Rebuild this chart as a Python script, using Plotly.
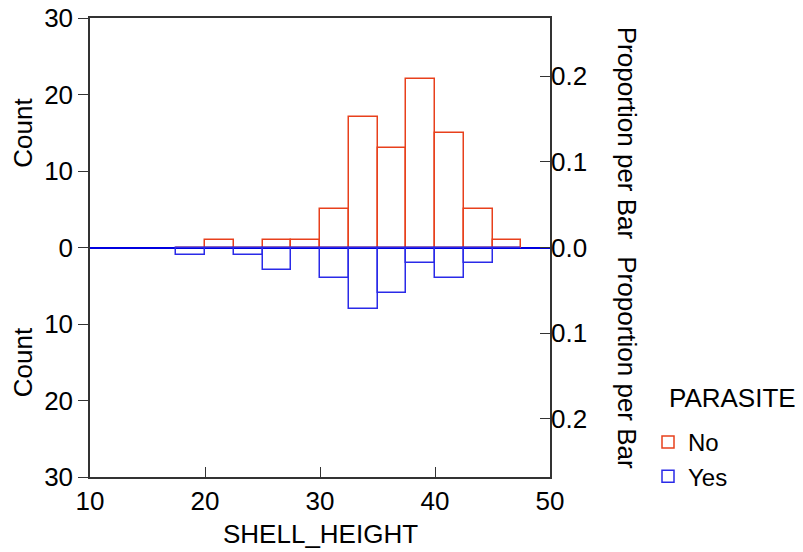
import plotly.graph_objects as go

bin_left = [17.5, 20.0, 22.5, 25.0, 27.5, 30.0, 32.5, 35.0, 37.5, 40.0, 42.5, 45.0]
bin_width = 2.5
count_no = [0, 1, 0, 1, 1, 5, 17, 13, 22, 15, 5, 1]
count_yes = [1, 0, 1, 3, 0, 4, 8, 6, 2, 4, 2, 0]
x_ticks = [10, 20, 30, 40, 50]
count_ticks = [-30, -20, -10, 0, 10, 20, 30]
prop_ticks = [-0.2, -0.1, 0.0, 0.1, 0.2]

total = sum(count_no) + sum(count_yes)
centers = [b + bin_width / 2 for b in bin_left]

RED = "#e8401c"
BLUE = "#2a2ae8"
FONT = "Liberation Sans, Arial, sans-serif"
FS = 26

PW, PH = 460, 459  # plot area size in px

fig = go.Figure()
fig.add_trace(go.Bar(
    x=centers, y=count_no, width=bin_width, name="No",
    marker=dict(color="rgba(0,0,0,0)", line=dict(color=RED, width=1.5)),
))
fig.add_trace(go.Bar(
    x=centers, y=[-c for c in count_yes], width=bin_width, name="Yes",
    marker=dict(color="rgba(0,0,0,0)", line=dict(color=BLUE, width=1.5)),
))
# invisible trace to drive the right-hand proportion axis
fig.add_trace(go.Scatter(x=[centers[0]], y=[0], yaxis="y2", mode="markers",
                         marker=dict(opacity=0), showlegend=False, hoverinfo="skip"))

fig.update_layout(
    width=803, height=552,
    margin=dict(l=82, r=261, t=10, b=83, autoexpand=False),
    paper_bgcolor="white", plot_bgcolor="white",
    font=dict(family=FONT, size=FS, color="black"),
    barmode="overlay", bargap=0,
    xaxis=dict(
        range=[10, 50], tickvals=x_ticks, ticks="inside", ticklen=10,
        tickcolor="#333", showline=True, linecolor="#333", linewidth=1.5, mirror=True,
        showgrid=False, zeroline=False, automargin=False, ticklabeloverflow="allow",
    ),
    yaxis=dict(
        range=[-30, 30], tickvals=count_ticks,
        ticktext=[str(abs(t)) for t in count_ticks],
        ticks="outside", ticklen=10, tickcolor="#333", automargin=False,
        ticklabeloverflow="allow",
        showline=True, linecolor="#333", linewidth=1.5, mirror=True,
        showgrid=False, zeroline=True, zerolinecolor="#0000e0", zerolinewidth=2,
    ),
    yaxis2=dict(
        overlaying="y", side="right", automargin=False, ticklabeloverflow="allow",
        range=[-30 / total, 30 / total], tickvals=prop_ticks,
        ticktext=["%.1f" % abs(t) for t in prop_ticks],
        ticks="inside", ticklen=10, tickcolor="#333",
        showline=False, showgrid=False, zeroline=False,
    ),
    legend=dict(
        x=(648 - 90) / PW, xanchor="left", y=57 / PH, yanchor="top",
        font=dict(size=24), itemwidth=30, tracegroupgap=0,
        bgcolor="rgba(0,0,0,0)",
    ),
    showlegend=True,
)

# x-axis title
fig.add_annotation(text="SHELL_HEIGHT", xref="paper", yref="paper",
                   x=0.5, y=-57 / PH, showarrow=False, font=dict(size=FS),
                   xanchor="center", yanchor="middle")
# legend title
fig.add_annotation(text="PARASITE", xref="paper", yref="paper",
                   x=(667 - 90) / PW, y=-(398 - 477) / PH, showarrow=False,
                   font=dict(size=FS), xanchor="left", yanchor="middle")

for yc in [0.75, 0.25]:
    fig.add_annotation(text="Count", xref="paper", yref="paper",
                       x=-67 / PW, y=yc, textangle=-90, showarrow=False,
                       font=dict(size=FS), xanchor="center", yanchor="middle")
for yc in [0.75, 0.25]:
    fig.add_annotation(text="Proportion per Bar", xref="paper", yref="paper",
                       x=(627 - 90) / PW, y=yc, textangle=90, showarrow=False,
                       font=dict(size=FS), xanchor="center", yanchor="middle")

fig.write_html("out.html")
